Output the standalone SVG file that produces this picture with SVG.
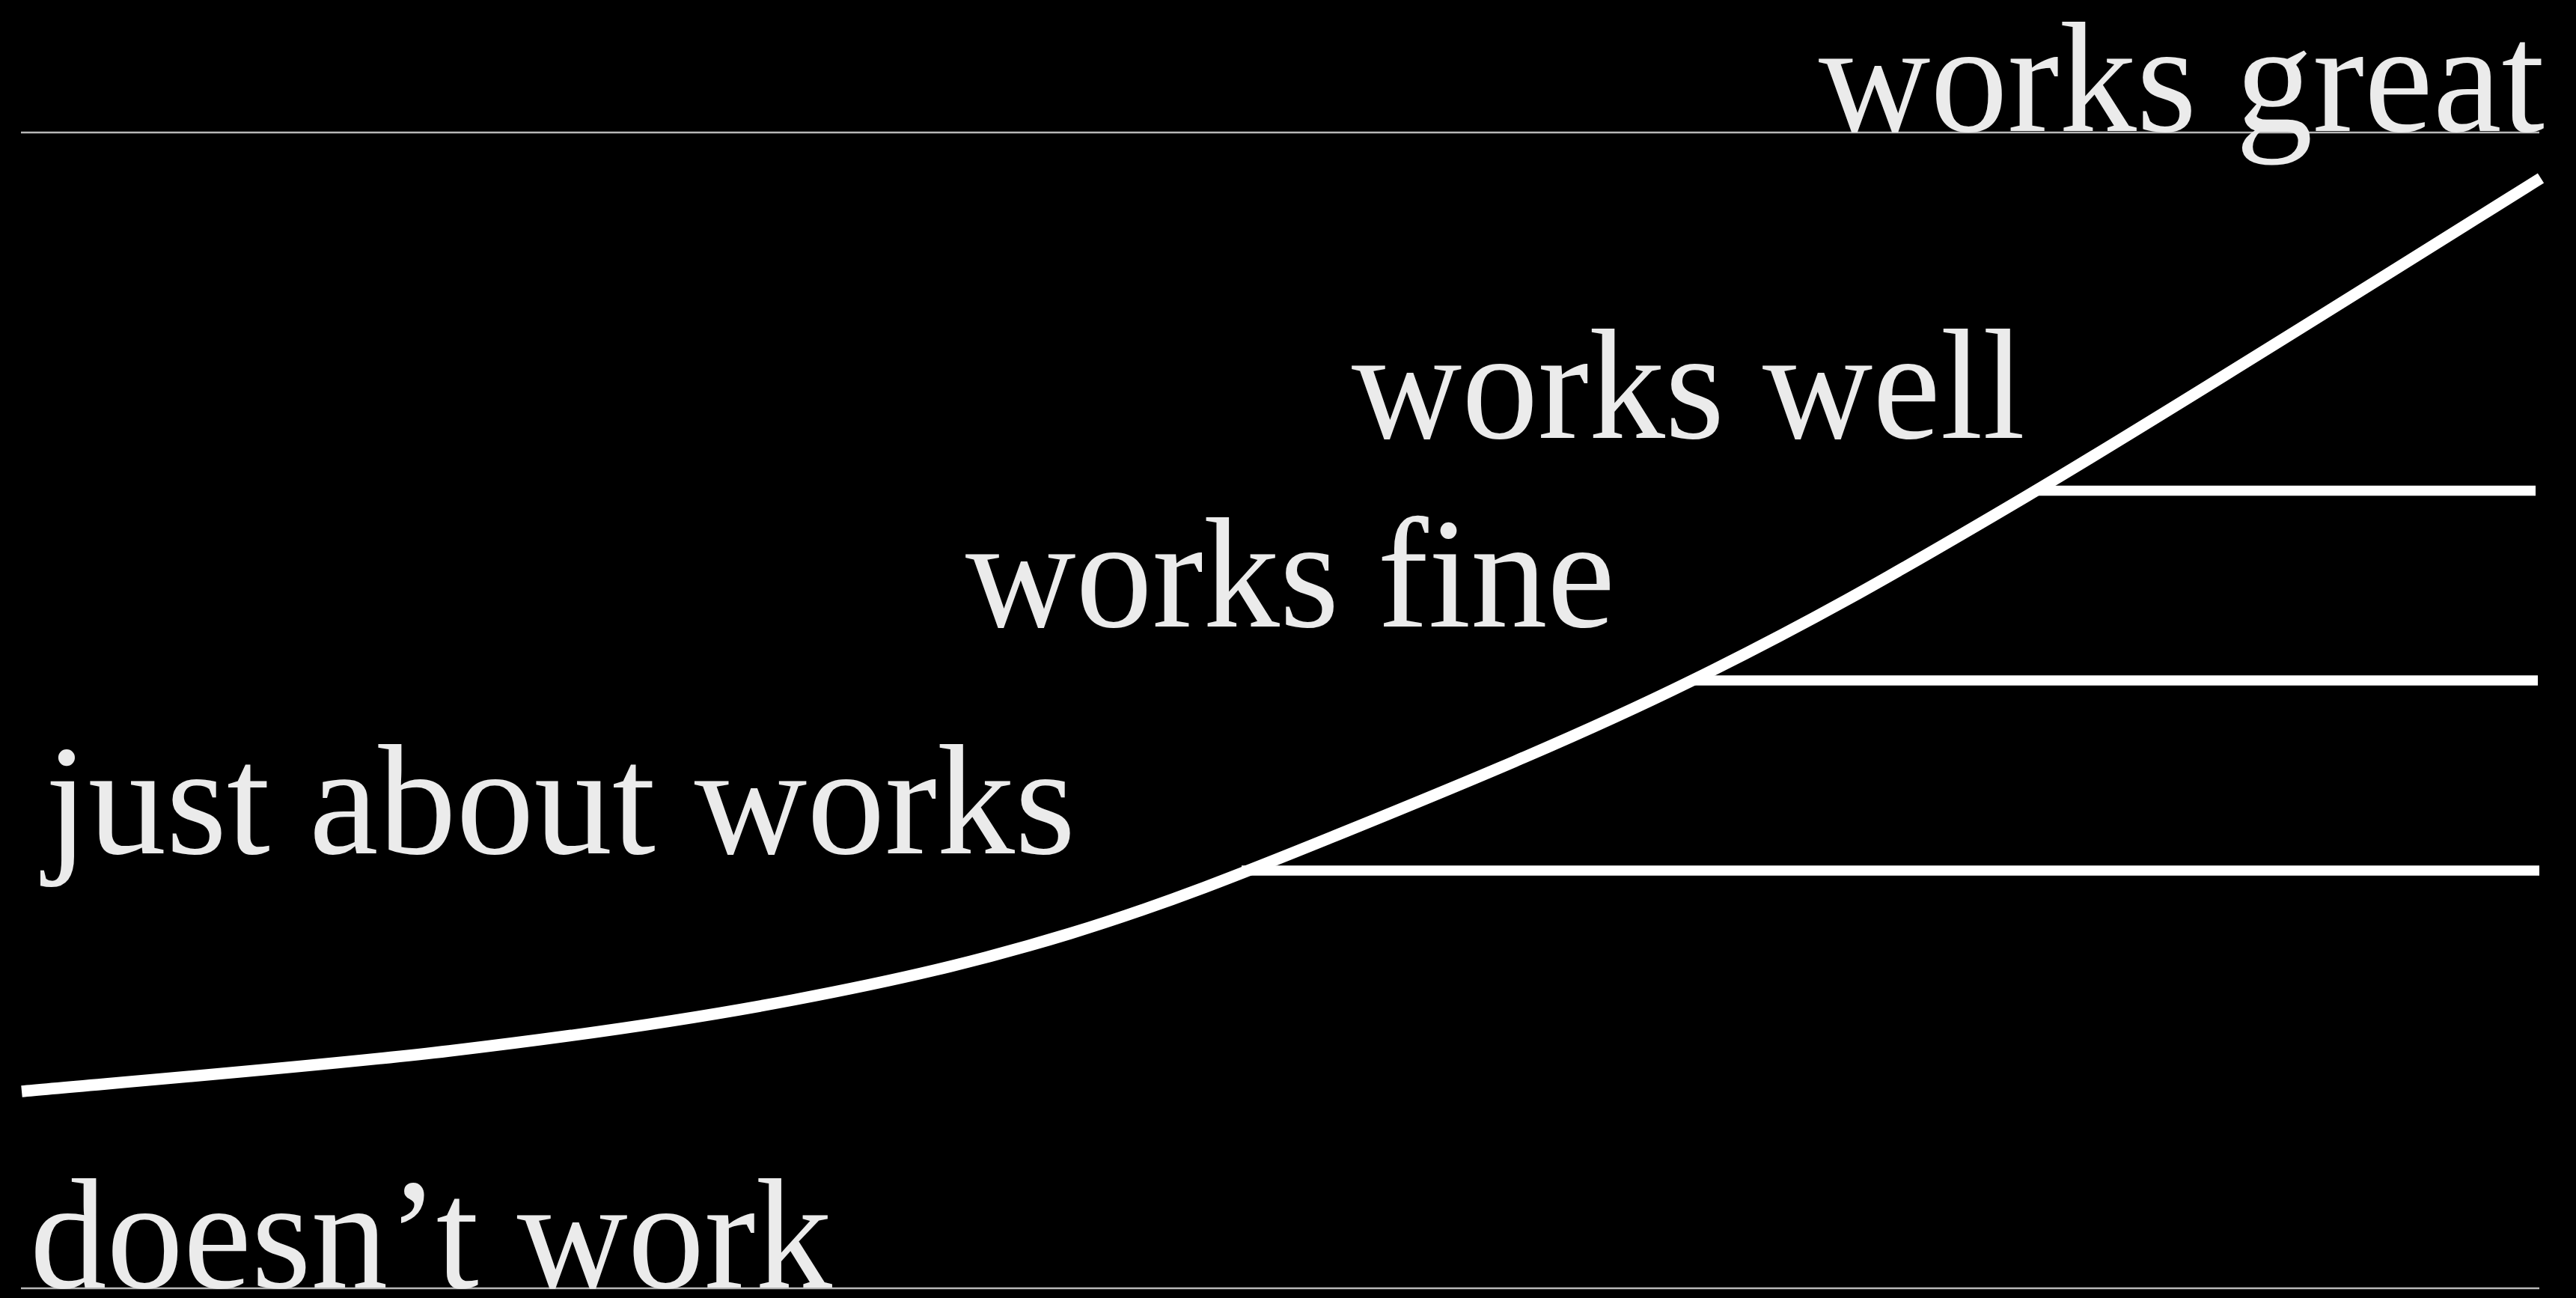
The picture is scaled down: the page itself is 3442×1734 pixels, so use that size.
<svg xmlns="http://www.w3.org/2000/svg" width="3442" height="1734" viewBox="0 0 3442 1734">
  <style>
    .lbl { font-family: "Liberation Serif", "Times New Roman", serif; font-size: 210px; fill: #ebebeb; }
    .rule { stroke: #b8b8b8; stroke-width: 2.5; fill: none; }
    .level { stroke: #ffffff; stroke-width: 13.5; fill: none; stroke-linecap: butt; }
    .curve { stroke: #ffffff; stroke-width: 15.5; fill: none; stroke-linecap: butt; stroke-linejoin: round; }
  </style>
  <rect x="0" y="0" width="3442" height="1734" fill="#000000"/>
  <g id="connectors">
    <line class="rule" x1="28" y1="177" x2="3393" y2="177"/>
    <line class="rule" x1="28" y1="1721" x2="3393" y2="1721"/>
    <line class="level" x1="2722" y1="655.5" x2="3388" y2="655.5"/>
    <line class="level" x1="2258" y1="909" x2="3391" y2="909"/>
    <line class="level" x1="1659" y1="1163" x2="3393" y2="1163"/>
    <path class="curve" d="M29,1458 C124.2,1449 428.3,1424.3 600,1404 C771.7,1383.7 920.7,1362.2 1059,1336 C1197.3,1309.8 1306.5,1284.7 1430,1247 C1553.5,1209.3 1661.8,1166.2 1800,1110 C1938.2,1053.8 2108,984.3 2259,910 C2410,835.7 2517,775.7 2706,664 C2895,552.3 3278.5,310.7 3395,238"/>
  </g>
  <g id="label-works-great"><text class="lbl" x="2430" y="175" textLength="970" lengthAdjust="spacingAndGlyphs">works great</text></g>
  <g id="label-works-well"><text class="lbl" x="1806" y="585" textLength="900" lengthAdjust="spacingAndGlyphs">works well</text></g>
  <g id="label-works-fine"><text class="lbl" x="1290" y="837" textLength="868" lengthAdjust="spacingAndGlyphs">works fine</text></g>
  <g id="label-just-about-works"><text class="lbl" x="60" y="1140" textLength="1377" lengthAdjust="spacingAndGlyphs">just about works</text></g>
  <g id="label-doesnt-work"><text class="lbl" x="40" y="1720" textLength="1072" lengthAdjust="spacingAndGlyphs">doesn’t work</text></g>
</svg>
